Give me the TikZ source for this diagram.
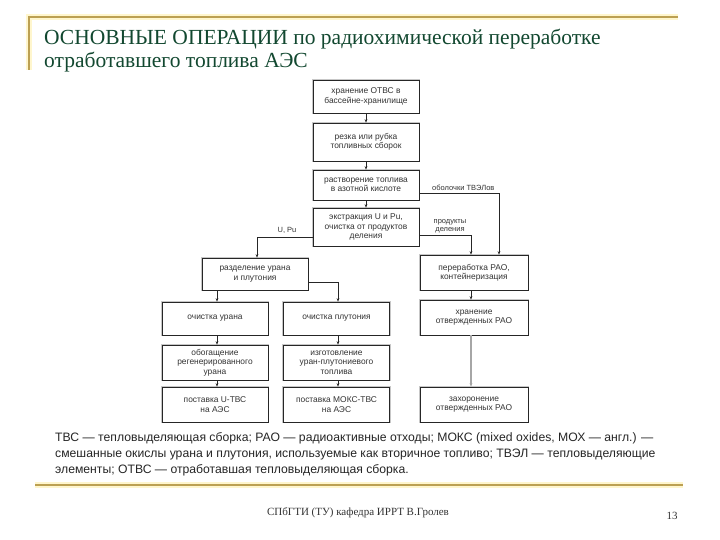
\documentclass[tikz,border=0pt]{standalone}
\usepackage{fontspec}
\setmainfont{Liberation Serif}
\setsansfont{Liberation Sans}
\usetikzlibrary{arrows.meta}
\definecolor{titlegreen}{RGB}{18,72,48}
\definecolor{gold}{RGB}{188,160,82}
\definecolor{goldglow}{RGB}{255,246,205}
\begin{document}
\begin{tikzpicture}[x=1pt,y=-1pt,
  box/.style={draw=black!85, line width=0.6pt, fill=white,
    preaction={draw=black!22, line width=2.2pt},
    font=\sffamily\fontsize{8.4}{9.3}\selectfont, text=black!80,
    align=center, inner sep=0pt, minimum width=106pt},
  arr/.style={-{Stealth[length=3.5pt,width=2.6pt]}, line width=0.6pt, draw=black!85},
  lbl/.style={font=\sffamily\fontsize{7.5}{8.5}\selectfont, text=black!80, inner sep=0pt, align=center},
  goldline/.style={draw=gold, line width=2.2pt},
  glowline/.style={draw=goldglow, line width=5.5pt},
  foot/.style={anchor=base west, font=\sffamily\fontsize{12.2}{16}\selectfont, text=black!85, inner sep=0pt}
]
\useasboundingbox[fill=white] (0,0) rectangle (720,540);

% decorative lines
\draw[glowline] (29,70) -- (29,17) -- (678,17);
\draw[goldline] (29,70) -- (29,17) -- (678,17);
\draw[glowline] (35,485) -- (683,485);
\draw[goldline] (35,485) -- (683,485);

% title
\node[anchor=base west, font=\fontsize{21.5}{24}\selectfont, text=titlegreen, inner sep=0pt] (t1) at (44,45) {ОСНОВНЫЕ ОПЕРАЦИИ по радиохимической переработке};
\node[anchor=base west, font=\fontsize{21.5}{24}\selectfont, text=titlegreen, inner sep=0pt] (t2) at (44,68) {отработавшего топлива АЭС};

% boxes
\node[box, minimum height=33pt] (b1) at (366,96.5) {хранение ОТВС в\\бассейне-хранилище};
\node[box, minimum height=38pt] (b2) at (366,142) {резка или рубка\\топливных сборок};
\node[box, minimum height=30pt] (b3) at (366,185) {растворение топлива\\в азотной кислоте};
\node[box, minimum height=38pt] (b4) at (366,227) {экстракция U и Pu,\\очистка от продуктов\\деления};
\node[box, minimum height=32pt] (sep) at (255,274) {разделение урана\\и плутония};
\node[box, minimum height=33pt] (ou) at (215,318.5) {очистка урана};
\node[box, minimum height=33pt] (op) at (336.5,318.5) {очистка плутония};
\node[box, minimum height=35pt] (ob) at (215,362.5) {обогащение\\регенерированного\\урана};
\node[box, minimum height=35pt] (iz) at (336.5,362.5) {изготовление\\уран-плутониевого\\топлива};
\node[box, minimum height=35pt] (pu) at (215,404.5) {поставка U-ТВС\\на АЭС};
\node[box, minimum height=35pt] (pm) at (336.5,404.5) {поставка МОКС-ТВС\\на АЭС};
\node[box, minimum height=35pt, minimum width=108pt] (rao) at (474,272.5) {переработка РАО,\\контейнеризация};
\node[box, minimum height=35pt, minimum width=108pt] (hr) at (474,317.5) {хранение\\отвержденных РАО};
\node[box, minimum height=35pt, minimum width=108pt] (zh) at (474,404.5) {захоронение\\отвержденных РАО};

% connectors
\draw[arr] (b1) -- (b2);
\draw[arr] (b2) -- (b3);
\draw[arr] (b3) -- (b4);
\draw[arr] ([yshift=-10pt]b4.west) -| ([xshift=2pt]sep.north);
\draw[arr] ([yshift=-8pt]b3.east) -| ([xshift=25pt]rao.north);
\draw[arr] ([yshift=-8pt]b4.east) -| ([xshift=-3pt]rao.north);
\draw[arr] ([xshift=-38pt]sep.south) -- ([xshift=2pt]ou.north);
\draw[arr] ([yshift=-8pt]sep.east) -| ([xshift=1.5pt]op.north);
\draw[arr] ([xshift=2pt]ou.south) -- ([xshift=2pt]ob.north);
\draw[arr] ([xshift=2pt]ob.south) -- ([xshift=2pt]pu.north);
\draw[arr] ([xshift=1.5pt]op.south) -- ([xshift=1.5pt]iz.north);
\draw[arr] ([xshift=1.5pt]iz.south) -- ([xshift=1.5pt]pm.north);
\draw[arr] ([xshift=-3pt]rao.south) -- ([xshift=-3pt]hr.north);
\draw[arr, draw=black!35, line width=1.2pt] ([xshift=-3pt]hr.south) -- ([xshift=-3pt]zh.north);

% connector labels
\node[lbl] (lup) at (287,230) {U, Pu};
\node[lbl, anchor=west] (lob) at (432,188) {оболочки ТВЭЛов};
\node[lbl] (lpd) at (450,226) {продукты\\деления};

% footnote
\node[foot] (f1) at (55,441) {ТВС — тепловыделяющая сборка; РАО — радиоактивные отходы; МОКС (mixed oxides, МОХ — англ.) —};
\node[foot] (f2) at (55,457) {смешанные окислы урана и плутония, используемые как вторичное топливо; ТВЭЛ — тепловыделяющие};
\node[foot] (f3) at (55,473) {элементы; ОТВС — отработавшая тепловыделяющая сборка.};

% footer
\node[font=\fontsize{11}{13}\selectfont, text=black!80, inner sep=0pt] (ft) at (358,513) {СПбГТИ (ТУ) кафедра ИРРТ В.Гролев};
\node[font=\fontsize{11}{13}\selectfont, text=black!80, inner sep=0pt] (pg) at (672,516) {13};
\end{tikzpicture}
\end{document}
